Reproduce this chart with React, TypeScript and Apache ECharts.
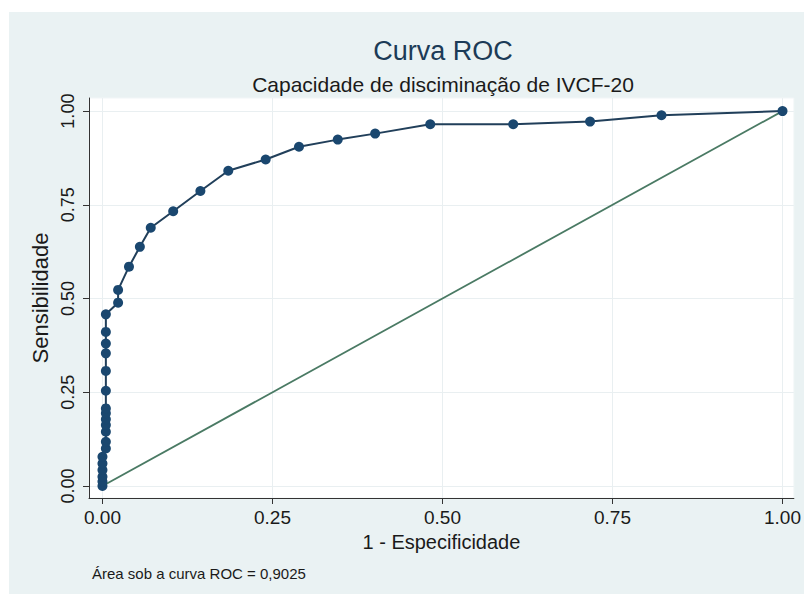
import React, { useEffect, useRef } from "react";
import * as echarts from "echarts";

const fpr = [
  0, 0, 0, 0, 0, 0,
  0.005, 0.005, 0.005, 0.005, 0.005, 0.005, 0.005, 0.005, 0.005, 0.005, 0.005, 0.005, 0.005,
  0.023, 0.023,
  0.039, 0.055, 0.071, 0.104, 0.144, 0.185, 0.24, 0.289, 0.346, 0.401, 0.482, 0.604, 0.717, 0.822, 1.0,
];
const sens = [
  0, 0.012, 0.025, 0.043, 0.06, 0.078,
  0.1, 0.118, 0.145, 0.163, 0.178, 0.194, 0.207, 0.254, 0.307, 0.354, 0.38, 0.411, 0.458,
  0.489, 0.523,
  0.585, 0.638, 0.689, 0.733, 0.787, 0.841, 0.871, 0.905, 0.924, 0.94, 0.965, 0.965, 0.972, 0.989, 1.0,
];
const refX = [0, 1];
const refY = [0, 1];
const tickValues = [0, 0.25, 0.5, 0.75, 1];

const titleText = "Curva ROC";
const subtitleText = "Capacidade de disciminação de IVCF-20";
const xName = "1 - Especificidade";
const yName = "Sensibilidade";
const noteText = "Área sob a curva ROC = 0,9025";

const FONT = "'Liberation Sans', Arial, sans-serif";

export default function App() {
  const ref = useRef<HTMLDivElement>(null);
  useEffect(() => {
    if (!ref.current) return;
    const chart = echarts.init(ref.current, undefined, { renderer: "svg" });
    const curve = fpr.map((x, i) => [x, sens[i]]);
    const diag = refX.map((x, i) => [x, refY[i]]);
    chart.setOption({
      animation: false,
      backgroundColor: "#EAF2F3",
      textStyle: { fontFamily: FONT },
      grid: {
        left: 80,
        right: 7,
        top: 86,
        bottom: 96,
        show: true,
        backgroundColor: "#ffffff",
        borderColor: "#f2f6f7",
        borderWidth: 1,
      },
      graphic: [
        {
          type: "text",
          x: 434,
          y: 39,
          style: {
            text: titleText,
            fontSize: 27,
            fontFamily: FONT,
            fill: "#1c3b57",
            textAlign: "center",
            textVerticalAlign: "middle",
          },
        },
        {
          type: "text",
          x: 434,
          y: 72,
          style: {
            text: subtitleText,
            fontSize: 21,
            fontFamily: FONT,
            fill: "#1a1a1a",
            textAlign: "center",
            textVerticalAlign: "middle",
          },
        },
        {
          type: "text",
          x: 83,
          y: 561,
          style: {
            text: noteText,
            fontSize: 15,
            fontFamily: FONT,
            fill: "#1a1a1a",
            textAlign: "left",
            textVerticalAlign: "middle",
          },
        },
      ],
      xAxis: {
        type: "value",
        min: -0.0198,
        max: 1.0167,
        name: xName,
        nameLocation: "middle",
        nameGap: 27,
        nameTextStyle: { fontSize: 20, color: "#1a1a1a", fontFamily: FONT },
        axisLine: { show: true, onZero: false, lineStyle: { color: "#333", width: 1 } },
        axisTick: { show: true, length: 6, inside: false, customValues: tickValues, lineStyle: { color: "#333" } },
        axisLabel: {
          customValues: tickValues,
          margin: 10,
          fontSize: 19,
          color: "#1a1a1a",
          fontFamily: FONT,
          formatter: (v: number) => v.toFixed(2),
        },
        splitLine: { show: true, lineStyle: { color: "#e9eff1", width: 1 } },
      },
      yAxis: {
        type: "value",
        min: -0.032,
        max: 1.035,
        name: yName,
        nameLocation: "middle",
        nameGap: 30,
        nameTextStyle: { fontSize: 22, color: "#1a1a1a", fontFamily: FONT },
        axisLine: { show: true, onZero: false, lineStyle: { color: "#333", width: 1 } },
        axisTick: { show: true, length: 6, inside: false, customValues: tickValues, lineStyle: { color: "#333" } },
        axisLabel: {
          customValues: tickValues,
          rotate: 90,
          margin: 12,
          fontSize: 18,
          color: "#1a1a1a",
          fontFamily: FONT,
          formatter: (v: number) => v.toFixed(2),
        },
        splitLine: { show: true, lineStyle: { color: "#e9eff1", width: 1 } },
      },
      series: [
        {
          type: "line",
          data: diag,
          showSymbol: false,
          symbol: "none",
          lineStyle: { color: "#4a7a64", width: 1.8 },
          z: 2,
        },
        {
          type: "line",
          data: curve,
          symbol: "circle",
          symbolSize: 10,
          itemStyle: { color: "#1a476f" },
          lineStyle: { color: "#213f5a", width: 2 },
          z: 3,
        },
      ],
    });
    return () => chart.dispose();
  }, []);
  return (
    <div
      ref={ref}
      style={{ position: "absolute", left: 9, top: 12, width: 795, height: 582 }}
    />
  );
}
